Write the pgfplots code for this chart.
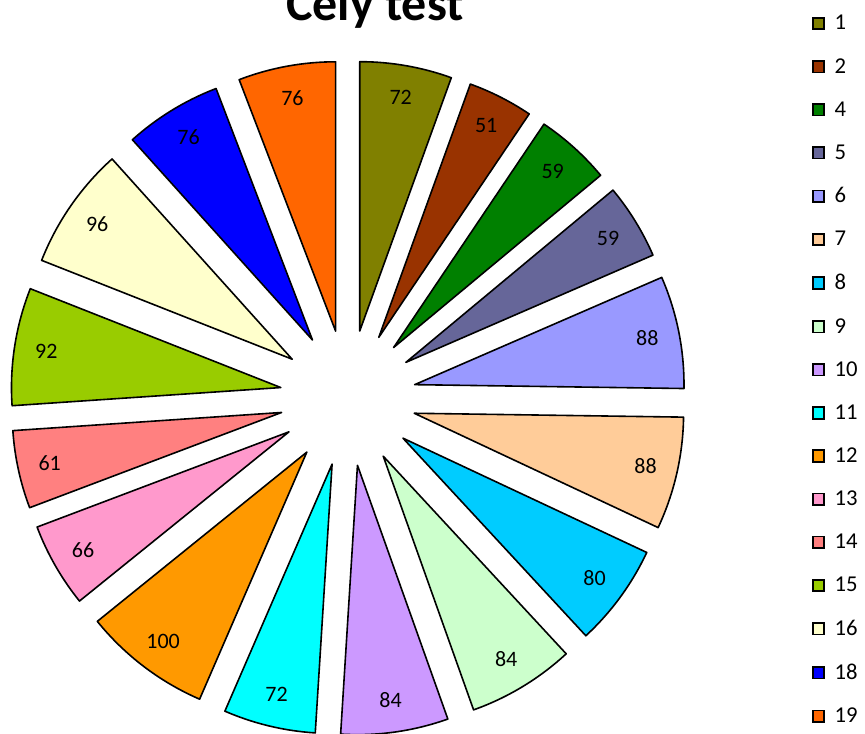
\documentclass[border=0pt]{standalone}
\usepackage{fontspec}
\setmainfont{Carlito}
\usepackage{pgfplots}
\usepackage{pgfplotstable}
\pgfplotsset{compat=1.18}
\usetikzlibrary{calc}

% slice colours, in table order
\definecolor{sl0}{HTML}{808000}
\definecolor{sl1}{HTML}{993300}
\definecolor{sl2}{HTML}{008000}
\definecolor{sl3}{HTML}{666699}
\definecolor{sl4}{HTML}{9999FF}
\definecolor{sl5}{HTML}{FFCC99}
\definecolor{sl6}{HTML}{00CCFF}
\definecolor{sl7}{HTML}{CCFFCC}
\definecolor{sl8}{HTML}{CC99FF}
\definecolor{sl9}{HTML}{00FFFF}
\definecolor{sl10}{HTML}{FF9900}
\definecolor{sl11}{HTML}{FF99CC}
\definecolor{sl12}{HTML}{FF8080}
\definecolor{sl13}{HTML}{99CC00}
\definecolor{sl14}{HTML}{FFFFCC}
\definecolor{sl15}{HTML}{0000FF}
\definecolor{sl16}{HTML}{FF6600}

\pgfplotstableread{
name value
1  72
2  51
4  59
5  59
6  88
7  88
8  80
9  84
10 84
11 72
12 100
13 66
14 61
15 92
16 96
18 76
19 76
}\piedata

\begin{document}
\begin{tikzpicture}
\begin{axis}[
    x=0.75pt, y=0.75pt,
    xmin=0, xmax=865, ymin=0, ymax=733,
    hide axis, clip=false,
    title={Cely test},
    title style={at={(rel axis cs:0.4335,0.970)}, anchor=base, yshift=-5pt,
        inner sep=0pt, font=\bfseries\fontsize{37.5}{37.5}\selectfont},
    legend cell align=left,
    legend image code/.code={\draw[#1,draw=black,line width=1.3pt] (0pt,-4.25pt) rectangle (8.6pt,4.35pt);},
    legend style={at={(rel axis cs:0.9387,0.9827)}, anchor=north west,
        draw=none, fill=none, inner sep=0pt, outer sep=0pt,
        font=\fontsize{17}{17}\selectfont,
        row sep=15.85pt, column sep=5pt},
]
% legend entries from the table
\pgfplotstableforeachcolumnelement{name}\of\piedata\as\nm{%
    \edef\tmp{\noexpand\addlegendimage{fill=sl\pgfplotstablerow}
        \noexpand\addlegendentry{\nm}}\tmp}

\coordinate (bl) at (axis cs:0,0);
\coordinate (tr) at (axis cs:865,733);

\pgfplotsextra{
    \gdef\total{0}
    \pgfplotstableforeachcolumnelement{value}\of\piedata\as\v{%
        \pgfmathsetmacro\t{\total+\v}\xdef\total{\t}}
    \gdef\cum{0}
    \pgfplotstableforeachcolumnelement{value}\of\piedata\as\v{%
        \pgfmathsetmacro\a{90-\cum/\total*360}
        \pgfmathsetmacro\b{90-(\cum+\v)/\total*360}
        \pgfmathsetmacro\m{(\a+\b)/2}
        \filldraw[fill=sl\pgfplotstablerow, draw=black, line width=1.2pt, line join=round]
            ($(axis cs:348,335)+(\m:51pt)$) -- ++(\a:202pt)
            arc[start angle=\a, end angle=\b, radius=202pt] -- cycle;
        \node[font=\fontsize{16.5}{16.5}\selectfont] at ($(axis cs:348,335)+(\m:229pt)$) {\v};
        \pgfmathsetmacro\c{\cum+\v}\xdef\cum{\c}
    }
}
\end{axis}
\pgfresetboundingbox
\path[use as bounding box] (bl) rectangle (tr);
\end{tikzpicture}
\end{document}
